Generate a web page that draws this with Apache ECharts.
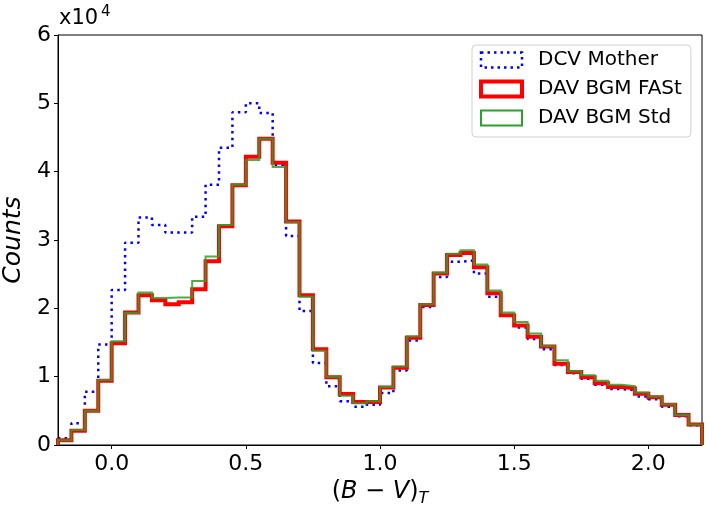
<!DOCTYPE html>
<html>
<head>
<meta charset="utf-8">
<title>(B-V)_T histogram</title>
<script src="https://cdn.jsdelivr.net/npm/echarts@6/dist/echarts.min.js"></script>
<style>
  html, body { margin: 0; padding: 0; background: #fff; }
  #chart { width: 712px; height: 514px; }
</style>
</head>
<body>
<div id="chart"></div>
<script>
// bin edges of (B-V)_T, 48 bins
const binEdges = [-0.2, -0.15, -0.1, -0.05, 0.0, 0.05, 0.1, 0.15, 0.2, 0.25, 0.3, 0.35,
  0.4, 0.45, 0.5, 0.55, 0.6, 0.65, 0.7, 0.75, 0.8, 0.85, 0.9, 0.95,
  1.0, 1.05, 1.1, 1.15, 1.2, 1.25, 1.3, 1.35, 1.4, 1.45, 1.5, 1.55,
  1.6, 1.65, 1.7, 1.75, 1.8, 1.85, 1.9, 1.95, 2.0, 2.05, 2.1, 2.15, 2.2];

// counts per bin
const dcvMother = [1000, 3200, 7800, 14700, 22700, 29600, 33300, 32200, 31100, 31100, 33400, 38100,
  43500, 48700, 50000, 48600, 41000, 30600, 19600, 12000, 8600, 6400, 5600, 5900,
  7600, 10900, 15300, 20200, 24600, 26800, 27000, 25100, 21700, 18900, 17200, 15500,
  14000, 11700, 10500, 9700, 8800, 8200, 8000, 7100, 6700, 5600, 4200, 2900];
const davFast = [700, 2100, 5000, 9400, 14900, 19400, 21900, 21200, 20600, 20900, 22800, 26900,
  32000, 38000, 42200, 44800, 41300, 32700, 21900, 14000, 9900, 7450, 6300, 6300,
  8400, 11300, 15700, 20500, 25100, 27800, 28100, 26000, 22200, 19000, 17500, 15850,
  14400, 11900, 10700, 9900, 9050, 8500, 8300, 7500, 7000, 5900, 4400, 3000];
const davStd = [700, 2200, 5000, 9500, 15200, 19300, 22300, 21500, 21600, 21600, 24000, 27600,
  32200, 38100, 41700, 44800, 40700, 32600, 21700, 13800, 10000, 7200, 6100, 6400,
  8500, 11500, 15900, 20600, 25200, 28000, 28500, 26400, 22600, 19400, 18000, 16300,
  14500, 12400, 10800, 10200, 9400, 8800, 8600, 7700, 7100, 5950, 4400, 3000];

const xTicks = [0.0, 0.5, 1.0, 1.5, 2.0];
const seriesNames = ['DCV Mother', 'DAV BGM FASt', 'DAV BGM Std'];

const FONT = 'DejaVu Sans';

// step outline like matplotlib histtype='step'
function stepData(counts) {
  const pts = [[binEdges[0], 0]];
  for (let i = 0; i < counts.length; i++) pts.push([binEdges[i], counts[i]]);
  pts.push([binEdges[binEdges.length - 1], 0]);
  return pts;
}

const chart = echarts.init(document.getElementById('chart'));

const option = {
  animation: false,
  backgroundColor: '#fff',
  grid: {
    left: 58, right: 10, top: 35, bottom: 69,
    show: true, borderColor: '#000', borderWidth: 1,
    outerBoundsMode: 'none'
  },
  legend: {
    orient: 'vertical',
    left: 472, top: 45,
    padding: [5, 9, 9, 7],
    itemWidth: 41, itemHeight: 15, itemGap: 9,
    borderColor: '#d0d0d0', borderWidth: 1, borderRadius: 4,
    backgroundColor: '#fff',
    selectedMode: false,
    textStyle: { fontFamily: FONT, fontSize: 20, color: '#000', lineHeight: 20, padding: [0, 0, 0, 11] },
    data: [
      { name: seriesNames[0], icon: 'rect',
        itemStyle: { color: 'transparent', borderColor: '#0000ff', borderWidth: 2.5, borderType: [2.5, 4] } },
      { name: seriesNames[1], icon: 'rect',
        itemStyle: { color: 'transparent', borderColor: '#ff0000', borderWidth: 4 } },
      { name: seriesNames[2], icon: 'rect',
        itemStyle: { color: 'transparent', borderColor: '#2ca02c', borderWidth: 2 } }
    ]
  },
  xAxis: {
    type: 'value',
    min: -0.2, max: 2.2,
    name: '{p|(}{i|B}{p| − }{i|V}{p|)}{s|T}',
    nameLocation: 'middle',
    nameGap: 32,
    nameTextStyle: {
      rich: {
        p: { fontFamily: FONT, fontSize: 24, color: '#000', lineHeight: 30, verticalAlign: 'middle' },
        i: { fontFamily: FONT, fontSize: 24, fontStyle: 'italic', color: '#000', lineHeight: 30, verticalAlign: 'middle' },
        s: { fontFamily: FONT, fontSize: 16, fontStyle: 'italic', color: '#000', lineHeight: 16, verticalAlign: 'bottom' }
      }
    },
    axisLine: { show: true, onZero: false, lineStyle: { color: '#000', width: 1 } },
    axisTick: { show: true, length: 4, customValues: xTicks, lineStyle: { color: '#000' } },
    axisLabel: {
      customValues: xTicks,
      margin: 8,
      fontFamily: FONT, fontSize: 22, color: '#000',
      formatter: v => v.toFixed(1)
    },
    splitLine: { show: false }
  },
  yAxis: {
    type: 'value',
    min: 0, max: 60000, interval: 10000,
    name: 'Counts',
    nameLocation: 'middle',
    nameGap: 29,
    nameTextStyle: { fontFamily: FONT, fontSize: 25, fontStyle: 'italic', color: '#000' },
    axisLine: { show: true, onZero: false, lineStyle: { color: '#000', width: 1 } },
    axisTick: { show: true, length: 4, lineStyle: { color: '#000' } },
    axisLabel: {
      margin: 7,
      fontFamily: FONT, fontSize: 22, color: '#000',
      formatter: v => String(v / 10000)
    },
    splitLine: { show: false }
  },
  graphic: [
    { type: 'text', left: 59, top: 8,
      style: { text: 'x10', font: '21px "DejaVu Sans"', fill: '#000' } },
    { type: 'text', left: 101, top: 5,
      style: { text: '4', font: '15px "DejaVu Sans"', fill: '#000' } }
  ],
  series: [
    {
      name: seriesNames[0], type: 'line', step: 'end', showSymbol: false,
      data: stepData(dcvMother),
      lineStyle: { color: '#0000ff', width: 2.5, type: [2.5, 4.2], cap: 'butt' },
      itemStyle: { color: '#0000ff' }
    },
    {
      name: seriesNames[1], type: 'line', step: 'end', showSymbol: false,
      data: stepData(davFast),
      lineStyle: { color: '#ff0000', width: 4, join: 'miter' },
      itemStyle: { color: '#ff0000' }
    },
    {
      name: seriesNames[2], type: 'line', step: 'end', showSymbol: false,
      data: stepData(davStd),
      lineStyle: { color: '#2ca02c', width: 2, opacity: 0.85, join: 'miter' },
      itemStyle: { color: '#2ca02c' }
    }
  ]
};

chart.setOption(option);
</script>
</body>
</html>
